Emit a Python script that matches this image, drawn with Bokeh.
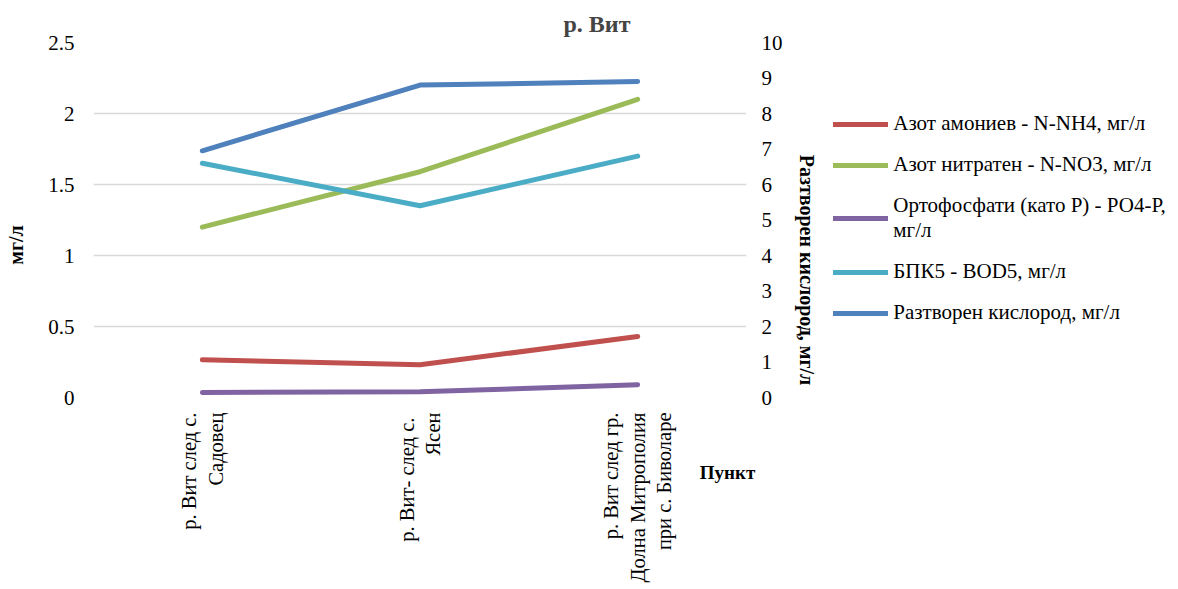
import math
from bokeh.plotting import figure
from bokeh.models import (Range1d, FactorRange, LinearAxis, FixedTicker, Legend, LegendItem)
from bokeh.embed import file_html
from bokeh.resources import INLINE

FONT = "Liberation Serif"
NB = "\u00a0"

# ---- data ----
points = ["р. Вит след с.\nСадовец", "р. Вит- след  с.\nЯсен",
          "р. Вит след гр.\nДолна Митрополия\nпри с. Биволаре"]
ammonium = [0.265, 0.23, 0.43]
nitrate = [1.2, 1.59, 2.1]
phosphate = [0.035, 0.04, 0.09]
bod5 = [1.65, 1.35, 1.70]
oxygen = [6.95, 8.8, 8.9]

names = ["Азот амониев - N-NH4, мг/л", "Азот нитратен - N-NO3, мг/л",
         "Ортофосфати (като Р) - РО4-Р,\nмг/л", "БПК5 - BOD5, мг/л",
         "Разтворен кислород, мг/л"]
colors = ["#C0504D", "#9BBB59", "#8064A2", "#4BACC6", "#4F81BD"]
left_ticks = [0, 0.5, 1, 1.5, 2, 2.5]
left_labels = ["0", "0.5", "1", "1.5", "2", "2.5"]
right_ticks = list(range(0, 11))

p = figure(x_range=FactorRange(*points, range_padding=0), y_range=Range1d(0, 2.5),
           frame_width=653, frame_height=355, output_backend="svg", toolbar_location=None,
           min_border_left=93, min_border_top=42, min_border_right=5, min_border_bottom=191,
           title="р. Вит")
p.extra_y_ranges = {"right": Range1d(0, 10)}
p.outline_line_color = None
p.background_fill_color = "white"

p.title.align = "left"
p.title.offset = 470
p.title.text_font = FONT
p.title.text_font_size = "24px"
p.title.text_font_style = "bold"
p.title.standoff = 12

renderers = []
for vals, c in zip([ammonium, nitrate, phosphate, bod5], colors[:4]):
    r = p.line(points, vals, line_color=c, line_width=5, line_cap="round")
    renderers.append(r)
r = p.line(points, oxygen, line_color=colors[4], line_width=5, line_cap="round", y_range_name="right")
renderers.append(r)

# axes
p.xgrid.grid_line_color = None
p.ygrid.ticker = FixedTicker(ticks=left_ticks)
p.ygrid.grid_line_color = "#D9D9D9"
p.ygrid.grid_line_width = 1.5

ya = p.yaxis[0]
ya.ticker = FixedTicker(ticks=left_ticks)
ya.major_label_overrides = {t: l for t, l in zip(left_ticks, left_labels)}

ra = LinearAxis(y_range_name="right", ticker=FixedTicker(ticks=right_ticks))
p.add_layout(ra, "right")
xa = p.xaxis[0]

for ax in [ya, ra, xa]:
    ax.axis_line_color = None
    ax.major_tick_line_color = None
    ax.minor_tick_line_color = None
    ax.major_label_text_font = FONT
    ax.major_label_text_font_size = "21px"
    ax.major_label_text_color = "black"
    ax.axis_label_text_font = FONT
    ax.axis_label_text_font_size = "20px"
    ax.axis_label_text_font_style = "bold"
    ax.axis_label_text_color = "black"

ya.major_label_standoff = 13
ya.axis_label = "мг/л" + NB * 10
ya.axis_label_standoff = 18

ra.major_label_standoff = 9
ra.axis_label = NB * 20 + "Разтворен кислород, мг/л"
ra.axis_label_standoff = 10

xa.major_label_orientation = math.pi / 2
xa.major_label_standoff = 9
xa.major_label_text_font_size = "20.5px"
xa.axis_label = "Пункт" + NB * 8
xa.axis_label_align = "end"
xa.axis_label_standoff = -123
xa.axis_label_text_font_size = "19px"

# legend
items = [LegendItem(label=n, renderers=[rr]) for n, rr in zip(names, renderers)]
leg = Legend(items=items, location=(-209, 72), glyph_width=55, glyph_height=24,
             label_height=24, spacing=16, label_standoff=5, padding=0, margin=0,
             border_line_color=None, background_fill_alpha=0,
             label_text_font=FONT, label_text_font_size="21px", label_text_color="black")
p.add_layout(leg, "right")

open("out.html", "w").write(file_html(p, INLINE))
